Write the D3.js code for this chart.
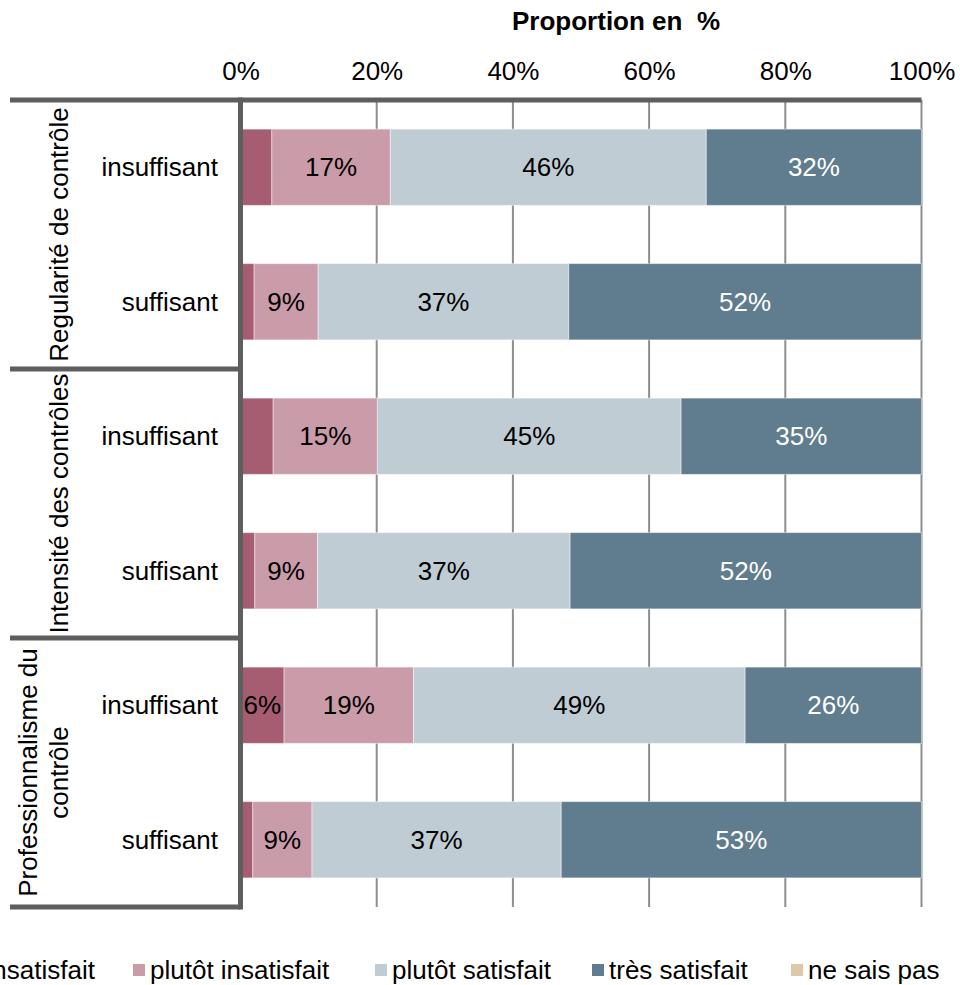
<!DOCTYPE html>
<html>
<head>
<meta charset="utf-8">
<script src="https://cdn.jsdelivr.net/npm/d3@7/dist/d3.min.js"></script>
<style>
  html, body { margin: 0; padding: 0; background: #fff; }
  svg { display: block; }
  text { font-family: "Liberation Sans", Arial, sans-serif; fill: #000; }
</style>
</head>
<body>
<svg id="chart" width="960" height="985"></svg>
<script>
// Satisfaction by perceived control quality (shares in %)
const groups = [["Regularité de contrôle"], ["Intensité des contrôles"], ["Professionnalisme du", "contrôle"]];
const rows = ["insuffisant", "suffisant", "insuffisant", "suffisant", "insuffisant", "suffisant"];
const seriesNames = ["très insatisfait", "plutôt insatisfait", "plutôt satisfait", "très satisfait", "ne sais pas"];
const tresInsatisfait   = [4.6, 2.0, 4.8, 2.1, 6.4, 1.8];
const plutotInsatisfait = [17.4, 9.4, 15.3, 9.2, 19.0, 8.7];
const plutotSatisfait   = [46.4, 36.8, 44.6, 37.1, 48.7, 36.6];
const tresSatisfait     = [31.6, 51.8, 35.3, 51.6, 25.9, 52.9];
const neSaisPas         = [0, 0, 0, 0, 0, 0];
const tickValues = [0, 20, 40, 60, 80, 100];
const colors = ["#A65D72", "#CA9BA8", "#BFCCD4", "#5F7D8E", "#DDC9A8"];
const labelColors = ["#000", "#000", "#000", "#fff", "#000"];

const seriesValues = [tresInsatisfait, plutotInsatisfait, plutotSatisfait, tresSatisfait, neSaisPas];
const table = rows.map((r, i) => {
  const o = { idx: i, row: r };
  seriesNames.forEach((s, k) => { o[s] = seriesValues[k][i]; });
  return o;
});

const svg = d3.select("#chart");
const plotTop = 100, plotBottom = 907, plotLeft = 240.5, plotRight = 921.5;
const lineColor = "#5E5E5E";
const fontSize = 26;

const x = d3.scaleLinear().domain([0, 100]).range([plotLeft, plotRight]);
const y = d3.scaleBand().domain(d3.range(rows.length)).range([plotTop, plotBottom])
  .paddingInner(0.433).paddingOuter(0.2165);
const stepY = y.step();

// vertical gridlines
svg.append("g").selectAll("line").data(tickValues.slice(1)).join("line")
  .attr("x1", d => x(d)).attr("x2", d => x(d))
  .attr("y1", plotTop).attr("y2", plotBottom)
  .attr("stroke", "#8E8E8E").attr("stroke-width", 2);

// stacked bars
const stack = d3.stack().keys(seriesNames);
const stacked = stack(table);

const layers = svg.append("g").selectAll("g").data(stacked).join("g")
  .attr("fill", (d, k) => colors[k]);
layers.selectAll("rect").data(d => d).join("rect")
  .attr("x", d => x(d[0]))
  .attr("width", d => Math.max(0, x(d[1]) - x(d[0])))
  .attr("y", d => y(d.data.idx))
  .attr("height", y.bandwidth())
  .attr("stroke", "#fff").attr("stroke-opacity", 0.45).attr("stroke-width", 1);

// value labels
layers.each(function (layer, k) {
  d3.select(this).selectAll("text").data(layer.filter(d => d[1] - d[0] >= 5)).join("text")
    .attr("x", d => (x(d[0]) + x(d[1])) / 2)
    .attr("y", d => y(d.data.idx) + y.bandwidth() / 2)
    .attr("dy", "0.35em")
    .attr("text-anchor", "middle")
    .attr("font-size", fontSize)
    .style("fill", labelColors[k])
    .text(d => Math.round(d[1] - d[0]) + "%");
});

// top axis with percent labels
const axis = d3.axisTop(x).tickValues(tickValues).tickSize(0).tickPadding(20)
  .tickFormat(d => d + "%");
const ax = svg.append("g").attr("transform", `translate(0,${plotTop})`).call(axis);
ax.select(".domain").remove();
ax.selectAll("text").attr("font-size", fontSize).attr("font-family", "Liberation Sans, Arial, sans-serif").style("fill", "#000");

// axis title
svg.append("text").attr("x", 616).attr("y", 30).attr("text-anchor", "middle")
  .attr("font-size", fontSize).attr("font-weight", "bold").style("white-space", "pre")
  .text("Proportion en  %");

// frame: top rule, category axis, group separators
svg.append("line").attr("x1", 10).attr("x2", plotRight).attr("y1", plotTop).attr("y2", plotTop)
  .attr("stroke", lineColor).attr("stroke-width", 5);
svg.append("line").attr("x1", plotLeft).attr("x2", plotLeft).attr("y1", plotTop - 2.5).attr("y2", plotBottom + 2.5)
  .attr("stroke", lineColor).attr("stroke-width", 5);
const groupBounds = d3.range(1, groups.length + 1).map(g => plotTop + g * 2 * stepY);
svg.append("g").selectAll("line").data(groupBounds).join("line")
  .attr("x1", 10).attr("x2", plotLeft).attr("y1", d => d).attr("y2", d => d)
  .attr("stroke", lineColor).attr("stroke-width", 5);

// row labels
svg.append("g").selectAll("text").data(table).join("text")
  .attr("x", 218).attr("y", d => y(d.idx) + y.bandwidth() / 2).attr("dy", "0.35em")
  .attr("text-anchor", "end").attr("font-size", fontSize)
  .text(d => d.row);

// group labels, rotated
groups.forEach((lines, g) => {
  const cy = plotTop + (g * 2 + 1) * stepY;
  const baseX = lines.length === 1 ? 68 : 36.5;
  const t = svg.append("text")
    .attr("transform", `translate(${baseX},${cy}) rotate(-90)`)
    .attr("text-anchor", "middle").attr("font-size", fontSize);
  lines.forEach((ln, i) => {
    t.append("tspan").attr("x", 0).attr("y", i * 31.8).text(ln);
  });
});

// legend
const legendX = [-81, 133, 375, 592, 791];
const lg = svg.append("g").selectAll("g").data(seriesNames).join("g")
  .attr("transform", (d, k) => `translate(${legendX[k]},964)`);
lg.append("rect").attr("width", 12).attr("height", 12).attr("fill", (d, k) => colors[k]);
lg.append("text").attr("x", 17).attr("y", 15).attr("font-size", fontSize).text(d => d);
</script>
</body>
</html>
